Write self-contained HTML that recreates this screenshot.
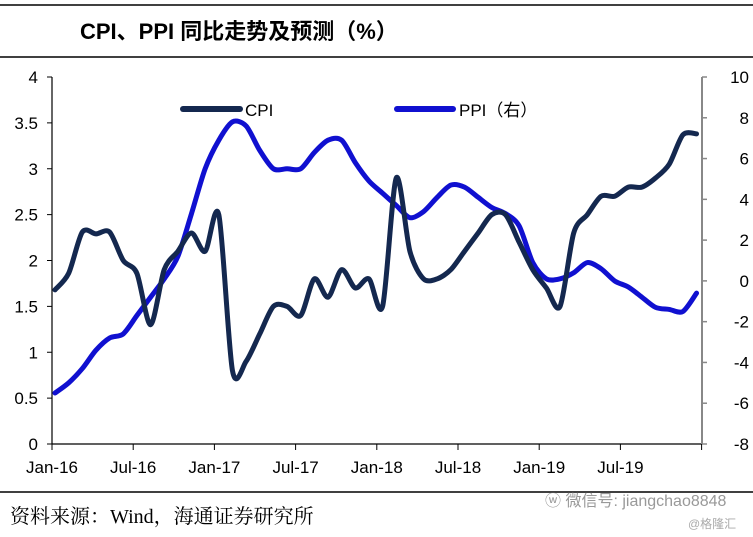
<!DOCTYPE html>
<html><head><meta charset="utf-8">
<style>
html,body{margin:0;padding:0;background:#fff;width:753px;height:537px;overflow:hidden}
svg{display:block}
</style></head>
<body>
<svg id="chart" width="753" height="537" viewBox="0 0 753 537" xmlns="http://www.w3.org/2000/svg">
<line x1="0" y1="5" x2="753" y2="5" stroke="#000" stroke-width="1.5"/>
<line x1="0" y1="57" x2="753" y2="57" stroke="#000" stroke-width="1.5"/>
<line x1="0" y1="492" x2="753" y2="492" stroke="#000" stroke-width="1.5"/>
<text x="80" y="39" font-family="Liberation Sans, Noto Sans CJK SC, sans-serif" font-size="22" font-weight="bold" fill="#000">CPI、PPI 同比走势及预测（%）</text>
<g id="axes"></g>
<g id="series"></g>
<g>
<line x1="183" y1="109" x2="240" y2="109" stroke="#14284f" stroke-width="6" stroke-linecap="round"/>
<text x="245" y="116" font-family="Liberation Sans, sans-serif" font-size="17" fill="#000">CPI</text>
<line x1="397" y1="109" x2="453" y2="109" stroke="#1010d0" stroke-width="6" stroke-linecap="round"/>
<text x="459" y="116" font-family="Liberation Sans, Noto Sans CJK SC, sans-serif" font-size="17" fill="#000">PPI（右）</text>
</g>
<text x="10" y="523" font-family="Liberation Serif, Noto Serif CJK SC, serif" font-size="20" fill="#000">资料来源：Wind，海通证券研究所</text>
<text x="545" y="506" font-family="Liberation Sans, Noto Sans CJK SC, sans-serif" font-size="16" fill="#999">ⓦ 微信号: jiangchao8848</text>
<text x="688" y="528" font-family="Liberation Sans, Noto Sans CJK SC, sans-serif" font-size="12" fill="#aaa">@格隆汇</text>
</svg>
<script>
const months = 48;
const xLabels = ["Jan-16","Jul-16","Jan-17","Jul-17","Jan-18","Jul-18","Jan-19","Jul-19"];
const leftTicks = [0,0.5,1,1.5,2,2.5,3,3.5,4];
const rightTicks = [-8,-6,-4,-2,0,2,4,6,8,10];
const cpi = [1.68,1.86,2.31,2.29,2.31,2.0,1.86,1.3,1.9,2.1,2.3,2.1,
             2.5,0.8,0.9,1.2,1.5,1.5,1.4,1.8,1.6,1.9,1.7,1.8,
             1.5,2.9,2.1,1.8,1.8,1.9,2.1,2.3,2.5,2.5,2.2,1.9,
             1.7,1.5,2.3,2.5,2.7,2.7,2.8,2.8,2.9,3.05,3.37,3.38];
const ppi = [-5.5,-5.0,-4.3,-3.4,-2.8,-2.6,-1.7,-0.8,0.1,1.2,3.3,5.5,
             6.9,7.8,7.6,6.4,5.5,5.5,5.5,6.3,6.9,6.9,5.8,4.9,
             4.3,3.7,3.1,3.4,4.1,4.7,4.6,4.1,3.6,3.3,2.7,0.9,
             0.1,0.1,0.4,0.9,0.6,0.0,-0.3,-0.8,-1.3,-1.4,-1.5,-0.6];
const NS="http://www.w3.org/2000/svg";
const X0=52,X1=702,YT=77,YB=444;
function xPos(i){return 55+i*13.65;}
function yL(v){return YB-(v-0)/(4-0)*(YB-YT);}
function yR(v){return YB-(v+8)/18*(YB-YT);}
function mk(tag,attrs,parent){const e=document.createElementNS(NS,tag);for(const k in attrs)e.setAttribute(k,attrs[k]);parent.appendChild(e);return e;}
const axes=document.getElementById('axes');
let e;
e=mk('line',{x1:X0,y1:YT,x2:X0,y2:YB,stroke:'#000','stroke-width':1.2},axes);


e=mk('line',{x1:X0,y1:YB,x2:X1,y2:YB,stroke:'#000','stroke-width':1.2},axes);


e=mk('line',{x1:X1,y1:YT,x2:X1,y2:YB,stroke:'#888','stroke-width':2},axes);


leftTicks.forEach(v=>{
  const y=yL(v);
  e=mk('line',{x1:X0-5,y1:y,x2:X0,y2:y,stroke:'#000'},axes);
  
  
  e=mk('text',{x:X0-14,y:y+6,'text-anchor':'end','font-family':'Liberation Sans, sans-serif','font-size':17},axes);
  e.textContent=v;
  
  
});
rightTicks.forEach(v=>{
  const y=yR(v);
  e=mk('line',{x1:X1,y1:y,x2:X1+5,y2:y,stroke:'#888','stroke-width':1.5},axes);
  
  
  e=mk('text',{x:X1+47,y:y+6,'text-anchor':'end','font-family':'Liberation Sans, sans-serif','font-size':17},axes);
  e.textContent=v;
  
  
});
for(let k=0;k<=8;k++){
  const x=X0+k*81.2;
  e=mk('line',{x1:x,y1:YB,x2:x,y2:YB+6,stroke:'#000'},axes);
  
  
  if(k<xLabels.length){
    e=mk('text',{x:x,y:YB+29,'text-anchor':'middle','font-family':'Liberation Sans, sans-serif','font-size':17},axes);
    e.textContent=xLabels[k];
    
    
  }
}
function smooth(pts){
  let d='M'+pts[0][0]+','+pts[0][1];
  for(let i=0;i<pts.length-1;i++){
    const p0=pts[Math.max(0,i-1)],p1=pts[i],p2=pts[i+1],p3=pts[Math.min(pts.length-1,i+2)];
    const c1x=p1[0]+(p2[0]-p0[0])/7,c1y=p1[1]+(p2[1]-p0[1])/7;
    const c2x=p2[0]-(p3[0]-p1[0])/7,c2y=p2[1]-(p3[1]-p1[1])/7;
    d+=' C'+c1x+','+c1y+' '+c2x+','+c2y+' '+p2[0]+','+p2[1];
  }
  return d;
}
const series=document.getElementById('series');
e=mk('path',{d:smooth(ppi.map((v,i)=>[xPos(i),yR(v)])),fill:'none',stroke:'#1010d0','stroke-width':5,'stroke-linejoin':'round','stroke-linecap':'round'},series);


e=mk('path',{d:smooth(cpi.map((v,i)=>[xPos(i),yL(v)])),fill:'none',stroke:'#14284f','stroke-width':5,'stroke-linejoin':'round','stroke-linecap':'round'},series);


</script>
</body></html>
